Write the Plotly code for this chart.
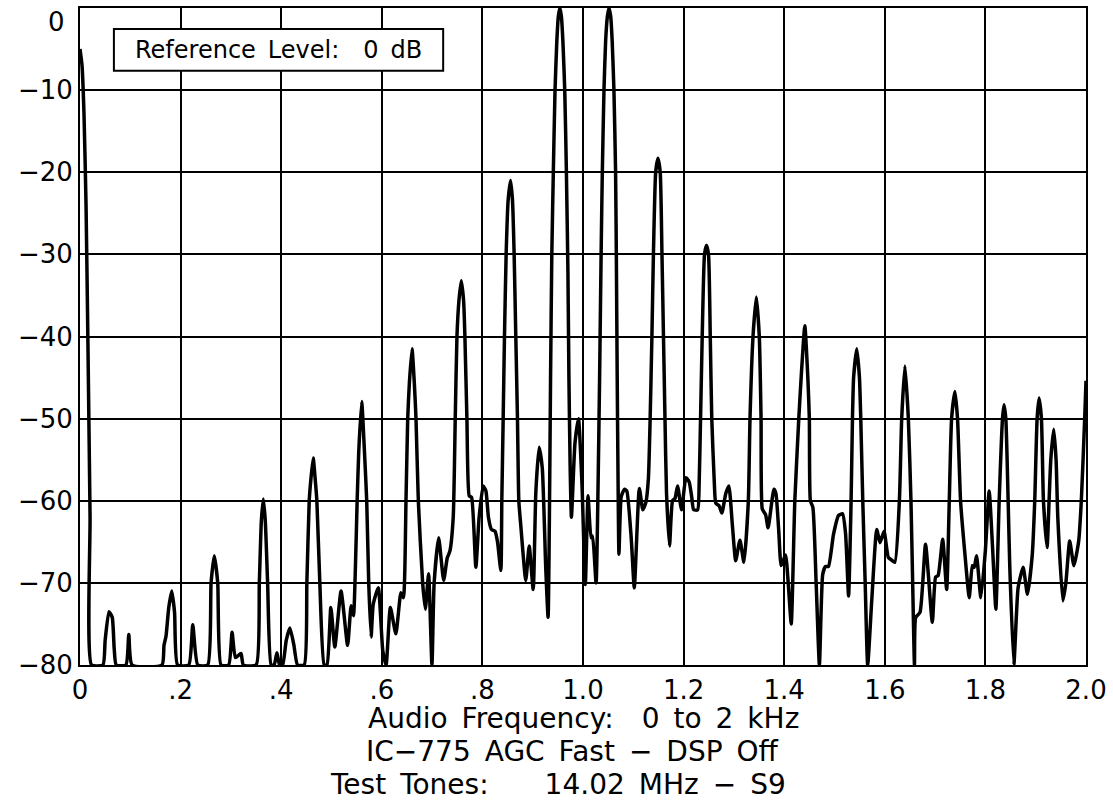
import plotly.graph_objects as go

# Audio spectrum, frequency in kHz and level in dB
freq_khz = [
    0.000, 0.004, 0.008, 0.012, 0.016, 0.020, 0.023,
    0.0456, 0.050, 0.0575, 0.0641, 0.068, 0.072,
    0.0913, 0.097, 0.1035,
    0.163, 0.167, 0.171, 0.1765, 0.1825, 0.188, 0.194,
    0.2163, 0.2242, 0.2341,
    0.254, 0.2606, 0.267, 0.2738, 0.2804,
    0.2956, 0.3023, 0.309, 0.320, 0.3248,
    0.3502, 0.3565, 0.3605, 0.3645, 0.3684, 0.373, 0.380,
    0.386, 0.3915, 0.3968, 0.4028, 0.410, 0.4173, 0.425, 0.4325,
    0.4458, 0.451, 0.4557, 0.459, 0.4636, 0.4676, 0.4709, 0.4768, 0.4855,
    0.491, 0.4987, 0.5066, 0.519, 0.532, 0.539, 0.5437,
    0.5476, 0.551, 0.5542, 0.560, 0.5655, 0.570, 0.574, 0.5787,
    0.583, 0.593, 0.602, 0.6085, 0.617, 0.628, 0.638, 0.643,
    0.6481, 0.6515, 0.6548, 0.6601, 0.6647, 0.668, 0.6726, 0.6812, 0.6865,
    0.693, 0.6997, 0.704, 0.713, 0.723, 0.730, 0.7355,
    0.742, 0.746, 0.7494, 0.7534, 0.758, 0.7626, 0.7652, 0.7692, 0.7738,
    0.7785, 0.787, 0.7935, 0.8016, 0.807, 0.812, 0.818, 0.825, 0.830, 0.8367,
    0.8386, 0.8413, 0.8439, 0.8472, 0.8512, 0.856, 0.8598, 0.8631, 0.8664, 0.8697, 0.8724, 0.8763, 0.8862,
    0.893, 0.901, 0.9062, 0.9127, 0.919, 0.926, 0.9306,
    0.9335, 0.9355, 0.938, 0.941, 0.9444, 0.948, 0.951, 0.954, 0.957, 0.960, 0.9637, 0.967, 0.970, 0.972, 0.9745, 0.977,
    0.984, 0.991, 0.998, 1.0046, 1.010, 1.016, 1.019, 1.026,
    1.030, 1.033, 1.036, 1.0384, 1.0417, 1.045, 1.0485, 1.0516, 1.055, 1.058, 1.0615, 1.0648, 1.0665, 1.068, 1.0695, 1.0715,
    1.076, 1.0825, 1.087, 1.0957, 1.102, 1.112, 1.119, 1.125,
    1.130, 1.1335, 1.137, 1.140, 1.1445, 1.149, 1.1535, 1.157, 1.160, 1.163, 1.166, 1.172,
    1.178, 1.183, 1.188, 1.196, 1.2046, 1.211, 1.216, 1.220, 1.228,
    1.231, 1.2337, 1.237, 1.2416, 1.2455, 1.2495, 1.253, 1.256, 1.261,
    1.264, 1.2706, 1.276, 1.284, 1.290, 1.297, 1.3036, 1.312, 1.320,
    1.3287, 1.332, 1.338, 1.3446, 1.3505, 1.354, 1.3564,
    1.363, 1.368, 1.3795, 1.3835, 1.389, 1.394, 1.4026, 1.408, 1.414,
    1.4211, 1.429, 1.4337, 1.441, 1.447, 1.450, 1.452, 1.457, 1.4635, 1.470,
    1.4765, 1.482, 1.488, 1.498, 1.508, 1.516, 1.522, 1.528,
    1.533, 1.5357, 1.538, 1.5443, 1.5496, 1.5522, 1.5562, 1.561, 1.566,
    1.574, 1.584, 1.5906, 1.5985, 1.607, 1.613, 1.620,
    1.629, 1.6336, 1.640, 1.6468, 1.652, 1.6554, 1.659,
    1.6614, 1.670, 1.681, 1.6945, 1.701, 1.706, 1.715, 1.723,
    1.7282, 1.7328, 1.7394, 1.7446, 1.7506, 1.759, 1.7679,
    1.774, 1.7778, 1.7824, 1.791, 1.800, 1.8075, 1.8145, 1.8208,
    1.8274, 1.834, 1.837, 1.8406, 1.8452, 1.8485, 1.8565,
    1.865, 1.875, 1.8836, 1.893,
    1.8981, 1.9028, 1.9067, 1.9114, 1.9154, 1.9226,
    1.9266, 1.930, 1.9358, 1.9405, 1.944, 1.954, 1.960, 1.9676, 1.976, 1.9855, 1.9907, 1.9974, 2.000,
]

level_db = [
    -5, -7, -13, -24, -42, -62, -80,
    -80, -77, -73.5, -74.2, -78, -80,
    -80, -76.3, -80,
    -80, -77.6, -76.5, -73, -71, -73.6, -80,
    -80, -75.1, -80,
    -80, -70, -66.7, -70, -80,
    -80, -76, -79.1, -78.6, -80,
    -80, -70, -62.5, -59.8, -62.5, -70, -80,
    -80, -78.5, -80, -80, -77, -75.5, -77.5, -80,
    -80, -70, -60, -57.4, -54.8, -57.4, -60, -70, -80,
    -80, -73, -77.8, -71, -77.6, -72.8, -74,
    -68, -60, -54, -47.9, -54, -60, -70, -76.6,
    -72.6, -70.6, -78.3, -80, -73, -76.2, -71.2, -71.8,
    -60, -50, -45.7, -41.5, -45.7, -50, -60, -70, -73.2,
    -68.9, -80, -70.1, -64.5, -69.7, -67, -66.1,
    -62, -50, -40, -35.6, -33.2, -35.6, -40, -50, -59.4,
    -59.6, -68.1, -62, -58.2, -58.8, -62, -63.5, -63.7, -65, -68.5,
    -60, -50, -40, -30, -23.4, -21, -23.4, -30, -40, -50, -60, -63, -69.7,
    -65.5, -70.8, -59, -53.5, -56, -68.3, -74.2,
    -60, -45, -30, -20, -10, -4, -1, 0, -1, -4, -10, -20, -32, -45, -56, -62,
    -53, -50, -58, -70.2, -59.4, -64.5, -64.3, -70,
    -58, -45, -30, -20, -10, -4, -1, 0, -1, -4, -10, -20, -32, -45, -56, -66.5,
    -59.5, -58.6, -58.8, -64.4, -70.6, -58.5, -61.1, -60.2,
    -57.3, -50, -40, -30, -20, -18.3, -20, -30, -40, -50, -59, -65.5,
    -60, -59.7, -58.2, -61.1, -57.2, -57.7, -59.5, -61.1, -61.1,
    -57.7, -50, -40, -30, -28.9, -30, -40, -50, -57.7,
    -60.3, -60.6, -61.5, -59.1, -58.2, -63, -67.3, -64.8, -67.5,
    -60, -50, -40, -35.2, -40, -50, -61,
    -61.7, -63.3, -58.6, -59.1, -63.5, -67.9, -66.6, -70, -75,
    -60, -50, -45, -38.7, -45, -50, -60, -60.8, -70, -80,
    -69, -68, -68, -64.1, -61.8, -61.6, -64, -71.6,
    -60, -50, -45, -41.5, -45, -50, -60, -70, -80,
    -72.2, -63.5, -65.1, -63.7, -66.9, -67.2, -67.5,
    -60, -50, -43.6, -50, -60, -70, -80,
    -74.2, -73.6, -65.3, -74.8, -69.3, -69.1, -64.7, -70.8,
    -60, -50, -46.7, -50, -60, -66.3, -71.8,
    -67.9, -68.1, -66.7, -71.8, -66, -58.8, -66, -73.2,
    -60, -50, -48.3, -50, -60, -68.1, -80,
    -70.6, -68.1, -71.4, -66.7,
    -60, -50, -47.5, -50, -60, -65.7,
    -60, -55, -51.3, -55, -62.1, -72.2, -70, -64.9, -67.9, -64.9, -60, -50, -45.4,
]

x_tick_vals = [0, 0.2, 0.4, 0.6, 0.8, 1.0, 1.2, 1.4, 1.6, 1.8, 2.0]
x_tick_text = ["0", ".2", ".4", ".6", ".8", "1.0", "1.2", "1.4", "1.6", "1.8", "2.0"]
y_tick_vals = [0, -10, -20, -30, -40, -50, -60, -70, -80]
# the "0" label is drawn separately (shifted down inside the page, as in the reference)
y_tick_text = ["", "\u221210", "\u221220", "\u221230", "\u221240", "\u221250", "\u221260", "\u221270", "\u221280"]
y_top_label = "0"

SP = "\u2002"  # en space: the reference font has wide spaces
title_lines = [
    "Audio" + SP + "Frequency:" + SP * 2 + "0" + SP + "to" + SP + "2" + SP + "kHz",
    "IC\u2212775" + SP + "AGC" + SP + "Fast" + SP + "\u2212" + SP + "DSP" + SP + "Off",
    "Test" + SP + "Tones:" + SP * 4 + "14.02" + SP + "MHz" + SP + "\u2212" + SP + "S9",
]
title_xshift = [0, -11, -25]
box_text = "Reference" + SP + "Level:" + SP * 2 + "0" + SP + "dB"

FONT = "DejaVu Sans"

fig = go.Figure()
fig.add_trace(go.Scatter(
    x=freq_khz, y=level_db, mode="lines",
    line=dict(color="black", width=3.5, shape="spline", smoothing=0.5),
    hoverinfo="skip", showlegend=False,
))

axis_common = dict(
    showgrid=True, gridcolor="black", gridwidth=2,
    showline=True, linecolor="black", linewidth=2, mirror=True,
    zeroline=False, ticks="", ticklabeloverflow="allow",
)

fig.update_xaxes(range=[0, 2], tickmode="array", tickvals=x_tick_vals, ticktext=x_tick_text,
                 ticklabelstandoff=1, tickfont=dict(family=FONT, size=26, color="black"),
                 **axis_common)
fig.update_yaxes(range=[-80, 0], tickmode="array", tickvals=y_tick_vals, ticktext=y_tick_text,
                 ticklabelstandoff=0, tickfont=dict(family=FONT, size=26, color="black"),
                 **axis_common)

fig.add_annotation(xref="paper", yref="paper", x=0, y=1, xshift=-13, yshift=-14,
                   text=y_top_label, showarrow=False, xanchor="right", yanchor="middle",
                   font=dict(family=FONT, size=26, color="black"))

# reference level box
fig.add_shape(type="rect", xref="paper", yref="paper",
              x0=0.0337, x1=0.361, y0=0.9044, y1=0.968,
              line=dict(color="black", width=2), fillcolor="white", layer="above")
fig.add_annotation(xref="paper", yref="paper", x=0.1974, y=0.936, text=box_text,
                   showarrow=False, xanchor="center", yanchor="middle",
                   font=dict(family=FONT, size=24, color="black"))

for i, line in enumerate(title_lines):
    fig.add_annotation(xref="paper", yref="paper", x=0.5, y=0, yshift=-53 - 33 * i,
                       xshift=title_xshift[i],
                       text=line, showarrow=False, xanchor="center", yanchor="middle",
                       font=dict(family=FONT, size=28, color="black"))

fig.update_layout(
    width=1113, height=805,
    margin=dict(l=80, r=25, t=6, b=140),
    paper_bgcolor="white", plot_bgcolor="white",
    showlegend=False,
)

fig.write_html("out.html", config={"displayModeBar": False},
               post_script="document.body.style.margin='0px';")
